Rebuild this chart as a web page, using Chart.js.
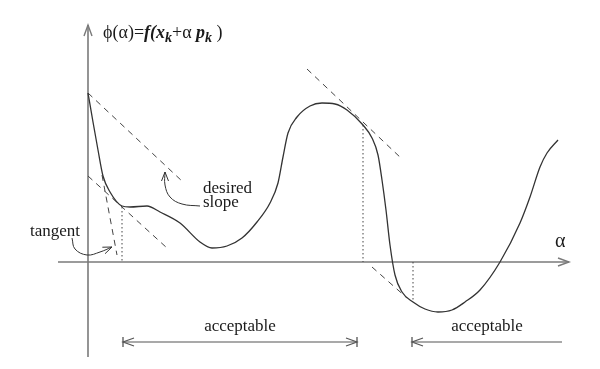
<!DOCTYPE html>
<html>
<head>
<meta charset="utf-8">
<script src="https://cdn.jsdelivr.net/npm/chart.js@4.4.1/dist/chart.umd.min.js"></script>
<style>
html,body{margin:0;padding:0;background:#fff;}
#wrap{width:600px;height:369px;position:relative;}
</style>
</head>
<body>
<div id="wrap"><canvas id="c"></canvas></div>
<script>
// phi(alpha) curve (alpha, phi)
const curveAlpha = [0,5,10,15,22,34,42,59,72,92,112,124,139,154,169,182,190,195,200,209,222,234,247,259,275,284,290,294,298,302,307,314,325,337,350,364,377,392,412,432,442,452,459,470];
const curvePhi   = [169,140,112,86,70,56,55,56,50,39,20,14,16,24,40,59,79,105,129,145,156,159,158,152,137,124,107,82,52,17,-13,-30,-40,-47,-50,-48,-40,-28,0,39,65,95,109,122];

// dashed slope lines: [alpha1, phi1, alpha2, phi2]
const slopeLines = [
  [0,169,95,80],      // desired slope through phi(0)
  [0,86,79,14],       // parallel desired slope
  [14,87,29,7],       // tangent
  [219,193,314,103],  // tangent at right end of first acceptable interval
  [284,-5,319,-36]    // tangent at left end of second interval
];
// dotted verticals: [alpha, phiTop, phiBottom]
const dottedLines = [[34,55,0],[275,137,0],[325,0,-38]];

// acceptable intervals [start, end], arrow at start?, arrow at end?
const intervals = [[35,269,true,true],[324,474,true,false]];
const intervalLabel = 'acceptable';
const intervalPhi = -80;

// annotation arrows (curved)
const desiredArrowA = [112,94,82,77,77];
const desiredArrowP = [56,58,65,77,90];
const tangentArrowA = [-16,-13,-1,12,24];
const tangentArrowP = [24,13,7,10,15];

const axisXRange = [-30,481];
const axisYRange = [-95,237];

const pts = (xs, ys) => xs.map((x,i)=>({x:x,y:ys[i]}));

const datasets = [];
datasets.push({data:[{x:axisXRange[0],y:0},{x:axisXRange[1],y:0}],borderColor:'#7a7a7a',borderWidth:1.6,tension:0,order:5});
datasets.push({data:[{x:0,y:axisYRange[0]},{x:0,y:axisYRange[1]}],borderColor:'#7a7a7a',borderWidth:1.6,tension:0,order:5});
datasets.push({data:pts(curveAlpha,curvePhi),borderColor:'#333',borderWidth:1.3,cubicInterpolationMode:'monotone',order:1});
slopeLines.forEach(l=>datasets.push({data:[{x:l[0],y:l[1]},{x:l[2],y:l[3]}],borderColor:'#444',borderWidth:1,borderDash:[6,5],tension:0,order:2}));
dottedLines.forEach(l=>datasets.push({data:[{x:l[0],y:l[1]},{x:l[0],y:l[2]}],borderColor:'#444',borderWidth:1,borderDash:[1.5,2.5],tension:0,order:2}));
intervals.forEach(iv=>datasets.push({data:[{x:iv[0],y:intervalPhi},{x:iv[1],y:intervalPhi}],borderColor:'#555',borderWidth:1.2,tension:0,order:3}));
datasets.push({data:pts(desiredArrowA,desiredArrowP),borderColor:'#333',borderWidth:1,tension:0.4,order:3});
datasets.push({data:pts(tangentArrowA,tangentArrowP),borderColor:'#333',borderWidth:1,tension:0.4,order:3});

function head(ctx,x1,y1,x2,y2,len,half,color,w){
  const dx=x2-x1, dy=y2-y1, L=Math.hypot(dx,dy), ux=dx/L, uy=dy/L;
  ctx.save();ctx.strokeStyle=color;ctx.lineWidth=w;ctx.setLineDash([]);
  ctx.beginPath();
  ctx.moveTo(x2-ux*len-uy*half,y2-uy*len+ux*half);
  ctx.lineTo(x2,y2);
  ctx.lineTo(x2-ux*len+uy*half,y2-uy*len-ux*half);
  ctx.stroke();ctx.restore();
}

const decor = {
  id:'decor',
  afterDatasetsDraw(chart){
    const ctx=chart.ctx, xs=chart.scales.x, ys=chart.scales.y;
    const X=v=>xs.getPixelForValue(v), Y=v=>ys.getPixelForValue(v);
    // axis arrowheads
    head(ctx,X(axisXRange[0]),Y(0),X(axisXRange[1]),Y(0),11,4,'#7a7a7a',1.4);
    head(ctx,X(0),Y(axisYRange[0]),X(0),Y(axisYRange[1]),11,4,'#7a7a7a',1.4);
    // interval arrows and bars
    intervals.forEach(iv=>{
      const y=Y(intervalPhi), a=X(iv[0]), b=X(iv[1]);
      if(iv[2]) head(ctx,b,y,a,y,11,4,'#555',1.2);
      if(iv[3]) head(ctx,a,y,b,y,11,4,'#555',1.2);
      ctx.save();ctx.strokeStyle='#555';ctx.lineWidth=1.3;ctx.beginPath();
      if(iv[2]){ctx.moveTo(a,y-5);ctx.lineTo(a,y+5);}
      if(iv[3]){ctx.moveTo(b,y-5);ctx.lineTo(b,y+5);}
      ctx.stroke();ctx.restore();
      ctx.save();ctx.fillStyle='#1a1a1a';ctx.font='17px "Liberation Serif"';ctx.textAlign='center';ctx.textBaseline='alphabetic';
      ctx.fillText(intervalLabel,(a+b)/2,y-11);ctx.restore();
    });
    // annotation arrowheads
    const n1=desiredArrowA.length-1;
    head(ctx,X(desiredArrowA[n1-1]),Y(desiredArrowP[n1-1]),X(desiredArrowA[n1]),Y(desiredArrowP[n1]),9,3.5,'#333',1);
    const n2=tangentArrowA.length-1;
    head(ctx,X(tangentArrowA[n2-1]),Y(tangentArrowP[n2-1]),X(tangentArrowA[n2]),Y(tangentArrowP[n2]),9,3.5,'#333',1);
    // labels
    ctx.save();ctx.fillStyle='#1a1a1a';ctx.textBaseline='alphabetic';ctx.textAlign='left';
    ctx.font='17px "Liberation Serif"';
    ctx.fillText('desired',X(115),Y(69));
    ctx.fillText('slope',X(115),Y(55));
    ctx.fillText('tangent',X(-58),Y(26));
    ctx.font='20px "Liberation Serif"';
    ctx.fillText('\u03B1',X(467),Y(15));
    // title phi(alpha)=f(x_k+alpha p_k)
    let x=X(15); const by=Y(224);
    const parts=[
      ['\u03D5(\u03B1)=','18px "Liberation Serif"',0],
      ['f(','italic bold 18px "Liberation Serif"',0],
      ['x','italic bold 18px "Liberation Serif"',0],
      ['k','italic bold 14px "Liberation Serif"',4],
      ['+\u03B1 ','18px "Liberation Serif"',0],
      ['p','italic bold 18px "Liberation Serif"',0],
      ['k','italic bold 14px "Liberation Serif"',4],
      [' )','18px "Liberation Serif"',0]
    ];
    parts.forEach(p=>{ctx.font=p[1];ctx.fillText(p[0],x,by+p[2]);x+=ctx.measureText(p[0]).width;});
    ctx.restore();
  }
};

new Chart(document.getElementById('c'),{
  type:'scatter',
  data:{datasets:datasets.map(d=>Object.assign({showLine:true,pointRadius:0,pointHoverRadius:0,fill:false},d))},
  options:{
    responsive:true,maintainAspectRatio:false,animation:false,
    layout:{padding:0},
    plugins:{legend:{display:false},tooltip:{enabled:false}},
    events:[],
    scales:{
      x:{type:'linear',min:-88,max:512,display:false},
      y:{type:'linear',min:-107,max:262,display:false}
    }
  },
  plugins:[decor]
});
</script>
</body>
</html>
